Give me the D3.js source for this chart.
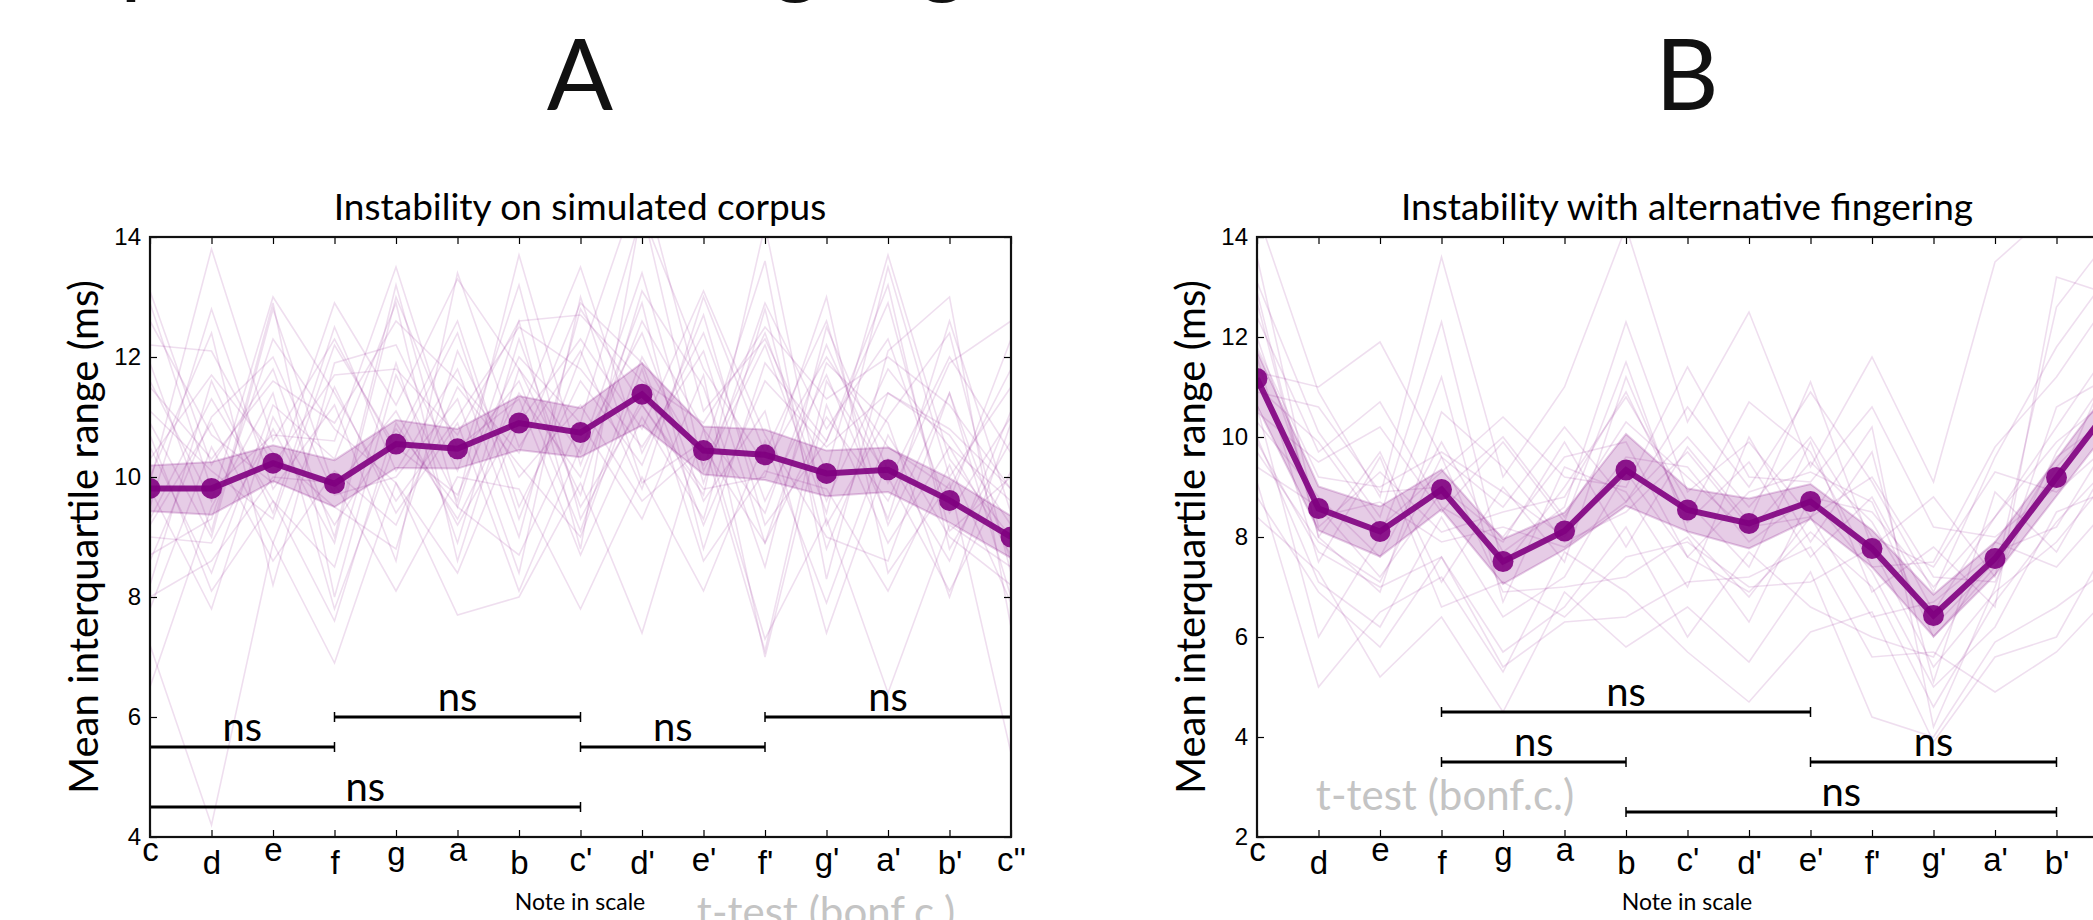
<!DOCTYPE html>
<html>
<head>
<meta charset="utf-8">
<script src="https://cdn.jsdelivr.net/npm/d3@7"></script>
<style>
  html, body { margin: 0; padding: 0; background: #fff; }
  svg { display: block; font-family: Lato, "Open Sans", sans-serif; }
</style>
</head>
<body>
<div id="chart"></div>
<script>
// notes of the scale, shared by both panels
const notes = ["c", "d", "e", "f", "g", "a", "b", "c'", "d'", "e'", "f'", "g'", "a'", "b'", "c''"];

// panel A - simulated corpus: mean IQR and s.e.m.
const meanA = [9.81, 9.81, 10.23, 9.89, 10.55, 10.47, 10.9, 10.74, 11.38, 10.44, 10.37, 10.06, 10.12, 9.61, 9.0];
const semA = [0.38, 0.44, 0.3, 0.39, 0.4, 0.33, 0.45, 0.41, 0.52, 0.4, 0.42, 0.38, 0.37, 0.37, 0.35];

// panel B - alternative fingering
const meanB = [11.17, 8.57, 8.11, 8.95, 7.51, 8.12, 9.34, 8.54, 8.27, 8.71, 7.77, 6.43, 7.57, 9.19, 10.8];
const semB = [0.55, 0.44, 0.5, 0.4, 0.45, 0.37, 0.72, 0.43, 0.5, 0.35, 0.37, 0.42, 0.33, 0.37, 0.4];

// individual players (faint lines), panel A
const playersA = [
  [13.1,10.2,11.8,9.0,13.2,9.5,12.6,8.8,14.5,10.1,12.2,9.4,13.5,10.0,11.5],
  [9.5,12.8,9.8,11.2,8.6,13.4,10.5,12.1,9.8,13.0,10.4,12.6,9.2,11.4,8.6],
  [11.9,9.1,12.9,8.0,11.7,9.6,13.7,10.2,12.9,8.8,11.9,10.6,12.9,9.1,10.0],
  [8.2,11.6,9.4,12.5,10.1,11.8,9.0,12.8,11.2,9.7,14.2,9.2,11.0,12.4,8.4],
  [10.5,8.4,11.2,10.3,12.9,8.6,11.8,9.7,13.1,11.5,8.5,12.5,10.1,9.6,12.3],
  [6.5,9.5,11.4,7.8,10.6,12.6,9.5,11.6,10.2,12.7,9.2,10.6,13.2,8.8,10.6],
  [12.2,12.1,10.2,11.7,11.8,10.7,12.6,12.7,11.6,10.9,12.5,11.3,12.0,11.2,9.8],
  [9.2,10.9,8.9,11.5,9.4,10.9,8.1,10.5,12.4,9.6,11.1,7.4,10.3,8.6,11.1],
  [10.9,9.0,12.8,9.8,11.1,9.2,11.0,13.5,10.4,12.4,9.6,11.7,9.3,12.6,9.4],
  [7.8,10.5,8.6,10.1,9.2,11.5,10.2,9.0,11.8,8.6,10.1,9.8,8.1,10.2,7.9],
  [11.1,10.1,9.3,12.2,10.5,9.7,12.0,10.9,14.4,11.8,10.2,12.0,10.5,9.8,11.8],
  [9.0,8.9,10.8,8.9,13.0,10.5,11.3,8.7,11.0,9.3,12.8,8.8,11.4,10.7,9.2],
  [10.3,11.7,10.4,9.5,8.8,12.1,10.0,11.2,9.6,10.5,8.9,11.9,10.9,8.0,10.9],
  [8.7,9.3,12.3,10.8,9.9,8.4,10.9,12.3,10.8,13.1,10.7,9.0,8.6,11.4,8.0],
  [12.6,10.7,9.9,12.9,11.2,13.3,11.8,10.4,13.4,9.9,12.9,10.8,12.3,9.4,11.0],
  [9.8,7.8,11.0,9.2,10.8,9.5,8.7,10.9,9.3,11.7,7.0,11.2,8.9,10.5,9.6],
  [10.0,12.4,8.2,11.9,12.2,10.1,13.2,9.3,11.3,10.4,13.6,8.3,12.1,13.0,7.5],
  [7.2,4.2,8.9,6.9,9.9,7.7,8.0,9.9,7.4,10.8,7.3,9.3,6.4,9.2,8.5],
  [11.5,10.3,11.6,10.9,12.6,11.6,10.4,12.9,11.9,9.2,11.6,10.5,11.4,10.8,9.8],
  [9.3,11.3,9.6,7.6,10.9,9.3,11.4,10.0,12.6,10.8,9.4,12.2,9.9,12.0,10.4],
  [8.0,8.6,10.0,9.9,8.1,10.0,9.8,7.8,10.0,8.1,10.6,7.9,10.7,9.0,8.2],
  [11.6,9.6,13.0,11.4,9.6,11.0,12.5,11.8,10.5,12.1,8.9,11.0,9.6,11.9,12.6],
  [9.9,13.8,10.6,12.3,10.4,12.4,9.3,12.0,15.0,11.1,12.3,10.1,13.7,10.3,9.0],
  [10.7,8.1,9.6,8.5,11.9,8.9,12.3,9.5,11.2,9.8,10.0,13.0,8.4,9.9,5.4],
  [8.6,11.0,12.0,9.7,10.0,11.3,8.4,13.0,9.9,10.6,7.1,11.6,10.0,8.1,10.1],
  [12.9,9.8,10.7,10.6,13.5,10.3,11.6,9.1,12.0,10.2,12.4,9.6,11.8,10.5,8.7]
];

// individual players (faint lines), panel B
const playersB = [
  [14.5,10.9,8.8,13.6,9.2,11.0,14.2,10.3,12.5,9.4,11.6,9.1,13.5,14.6,15.0],
  [12.9,8.0,9.7,7.1,9.0,7.5,11.2,8.3,9.5,7.6,8.8,6.5,8.4,10.2,12.0],
  [11.3,11.0,11.9,9.6,8.6,10.2,8.7,10.6,9.0,10.9,9.1,6.9,9.6,11.8,13.5],
  [10.0,7.1,6.2,8.4,6.4,7.2,9.3,7.6,6.9,8.1,7.0,4.6,6.7,8.3,9.6],
  [9.4,8.6,7.2,8.9,10.0,8.4,10.3,9.2,8.1,9.5,8.3,6.2,7.5,9.6,10.5],
  [12.4,9.7,10.7,8.6,7.9,9.9,7.8,9.8,8.3,11.1,7.8,8.8,7.2,12.6,14.2],
  [10.6,6.0,8.0,11.2,6.7,9.4,8.9,7.0,10.0,7.9,9.7,5.1,8.9,7.7,9.8],
  [13.1,10.1,8.4,12.3,7.4,9.0,10.8,8.7,7.4,9.9,6.9,7.8,6.6,13.2,12.8],
  [9.9,7.7,7.0,7.6,5.7,6.6,8.2,6.0,7.7,6.6,6.0,5.6,7.9,7.4,8.8],
  [11.8,9.2,9.0,9.7,8.9,8.0,9.6,9.4,7.9,8.8,8.5,7.0,8.4,9.9,10.9],
  [8.4,7.3,5.2,6.4,4.5,6.9,5.8,6.6,5.5,7.3,4.4,4.0,5.9,6.6,7.5],
  [10.3,8.8,7.6,9.9,7.7,8.6,12.3,8.9,9.9,8.4,10.2,4.2,7.0,10.6,11.3],
  [12.0,8.4,8.7,7.9,8.2,7.8,8.7,10.0,8.6,10.0,8.0,7.4,9.3,8.9,10.0],
  [9.1,5.0,6.5,7.2,5.3,7.7,6.9,5.7,4.7,6.1,6.5,3.9,5.6,6.0,8.2],
  [11.0,9.9,8.2,9.3,10.4,9.2,9.0,11.4,9.2,9.1,10.6,8.2,8.0,9.0,11.8],
  [13.6,8.2,9.3,8.1,8.5,8.8,10.9,8.4,10.7,9.7,7.4,7.5,9.8,11.2,13.0],
  [9.7,7.9,7.1,9.6,6.9,7.0,7.2,8.0,6.3,8.8,7.3,5.0,6.2,8.5,9.0],
  [10.9,10.6,8.9,9.0,8.0,9.6,9.9,7.6,8.9,9.3,8.7,6.0,7.4,9.4,10.7],
  [11.6,7.5,9.6,6.6,7.1,6.4,7.6,7.9,7.0,7.1,7.8,5.4,6.9,7.9,9.4],
  [12.7,8.0,6.9,10.5,9.4,7.9,8.5,9.7,8.2,8.4,6.4,6.7,7.7,8.2,10.2],
  [8.8,6.9,5.8,7.6,5.4,6.3,6.4,7.1,7.2,7.8,5.6,5.7,4.9,5.7,7.0],
  [10.5,9.5,10.2,8.5,9.9,8.3,11.5,8.1,6.8,8.4,9.2,7.2,7.1,9.7,11.5]
];

// significance brackets: [from note, to note, height]
const sigA = [["c", "f", 5.5], ["f", "c'", 6.0], ["c'", "f'", 5.5], ["f'", "c''", 6.0], ["c", "c'", 4.5]];
const sigB = [["f", "e'", 4.5], ["f", "b", 3.5], ["e'", "b'", 3.5], ["b", "b'", 2.5]];

const yTicksA = [4, 6, 8, 10, 12, 14];
const yTicksB = [2, 4, 6, 8, 10, 12, 14];

// figure title pieces: [text, index of the glyph to pin, x where that glyph sits]
const titleParts = [["Comparison of timing", 3, 120], [" in general", 4, 918], [" (mean ± s.e.m.)", 1, 1222]];

const width = 2093, height = 920;
const purple = "#800080";

const svg = d3.select("#chart").append("svg")
    .attr("width", width)
    .attr("height", height);

svg.append("rect").attr("width", width).attr("height", height).attr("fill", "#fff");

// figure title, sits above the page edge - only its descenders peek in
const figTitle = svg.append("text")
    .attr("y", -14)
    .attr("font-size", 95)
    .attr("fill", "#111");
let charOffset = 0;
titleParts.forEach(([txt, pin, target]) => {
    const span = figTitle.append("tspan").attr("x", 0).text(txt);
    const pos = figTitle.node().getStartPositionOfChar(charOffset + pin).x;
    span.attr("x", target - pos);
    charOffset += txt.length;
});
// stretch the bracket so its closing glyph lands where the original one is
const lastSpan = figTitle.select("tspan:last-child");
const closeStart = figTitle.node().getStartPositionOfChar(charOffset - 1).x;
lastSpan.attr("letter-spacing", Math.max(0, (1782 - closeStart) / 14));

// extra downward nudge for tick labels (letters with ascenders / primes sit lower)
const labelShift = s => /[dfb]/.test(s) ? 13 : (s.includes("'") ? 10 : (s === "g" ? 4 : 0));

function drawPanel(cfg) {
    const x = d3.scalePoint().domain(notes).range([cfg.left, cfg.left + 861]);
    const y = d3.scaleLinear().domain(cfg.yDomain).range([837, 237]);
    const [x0, x1] = [cfg.left, cfg.left + 861];

    const g = svg.append("g");
    const clipId = "clip" + cfg.key;
    g.append("clipPath").attr("id", clipId)
        .append("rect").attr("x", x0).attr("y", 237).attr("width", 861).attr("height", 600);

    const plot = g.append("g").attr("clip-path", `url(#${clipId})`);

    const line = d3.line().x((d, i) => x(notes[i])).y(d => y(d));

    // faint individual lines
    plot.append("g")
        .selectAll("path")
        .data(cfg.players)
        .join("path")
        .attr("d", line)
        .attr("fill", "none")
        .attr("stroke", purple)
        .attr("stroke-opacity", 0.13)
        .attr("stroke-width", 1.6);

    // s.e.m. band
    const area = d3.area()
        .x((d, i) => x(notes[i]))
        .y0((d, i) => y(d - cfg.sem[i]))
        .y1((d, i) => y(d + cfg.sem[i]));
    plot.append("path")
        .datum(cfg.mean)
        .attr("d", area)
        .attr("fill", purple)
        .attr("fill-opacity", 0.2)
        .attr("stroke", purple)
        .attr("stroke-opacity", 0.2)
        .attr("stroke-width", 2);

    // mean line + dots
    plot.append("path")
        .datum(cfg.mean)
        .attr("d", line)
        .attr("fill", "none")
        .attr("stroke", purple)
        .attr("stroke-opacity", 0.9)
        .attr("stroke-width", 6);

    plot.append("g")
        .selectAll("circle")
        .data(cfg.mean)
        .join("circle")
        .attr("cx", (d, i) => x(notes[i]))
        .attr("cy", d => y(d))
        .attr("r", 10.5)
        .attr("fill", purple)
        .attr("fill-opacity", 0.9);

    // significance bars
    const sig = g.append("g");
    sig.selectAll("line.bar")
        .data(cfg.sig)
        .join("line")
        .attr("class", "bar")
        .attr("x1", d => x(d[0])).attr("x2", d => x(d[1]))
        .attr("y1", d => y(d[2])).attr("y2", d => y(d[2]))
        .attr("stroke", "#000").attr("stroke-width", 3);
    sig.selectAll("path.cap")
        .data(cfg.sig)
        .join("path")
        .attr("class", "cap")
        .attr("d", d => `M${x(d[0])},${y(d[2]) - 5}V${y(d[2]) + 5}M${x(d[1])},${y(d[2]) - 5}V${y(d[2]) + 5}`)
        .attr("stroke", "#000").attr("stroke-width", 1.5);
    sig.selectAll("text")
        .data(cfg.sig)
        .join("text")
        .attr("x", d => (x(d[0]) + x(d[1])) / 2)
        .attr("y", d => y(d[2]) - 6)
        .attr("text-anchor", "middle")
        .attr("font-size", 40)
        .attr("fill", "#000")
        .text("ns");

    // axes with inward ticks
    const axes = g.append("g").attr("font-family", "Lato, sans-serif");
    const left = axes.append("g").attr("transform", `translate(${x0},0)`)
        .call(d3.axisLeft(y).tickValues(cfg.yTicks).tickSize(-7).tickPadding(9).tickFormat(d3.format("d")));
    left.selectAll("text").attr("font-size", 24).attr("fill", "#000");
    axes.append("g").attr("transform", `translate(${x1},0)`)
        .call(d3.axisRight(y).tickValues(cfg.yTicks).tickSize(-7).tickFormat(""));
    axes.append("g").attr("transform", "translate(0,237)")
        .call(d3.axisTop(x).tickSize(-7).tickFormat(""));
    const bottom = axes.append("g").attr("transform", "translate(0,837)")
        .call(d3.axisBottom(x).tickSize(-7).tickPadding(0));
    bottom.selectAll("text")
        .attr("font-size", 33)
        .attr("fill", "#000")
        .attr("dy", null)
        .attr("y", d => 24 + labelShift(d));
    axes.selectAll(".domain").remove();
    axes.selectAll(".tick line").attr("stroke", "#000").attr("stroke-width", 1.2);

    g.append("rect")
        .attr("x", x0).attr("y", 237).attr("width", 861).attr("height", 600)
        .attr("fill", "none").attr("stroke", "#111").attr("stroke-width", 2.2);

    const cx = x0 + 430;
    g.append("text").attr("x", cx).attr("y", 110).attr("text-anchor", "middle")
        .attr("font-size", 98).attr("fill", "#111").text(cfg.key);
    g.append("text").attr("x", cx).attr("y", 220).attr("text-anchor", "middle")
        .attr("font-size", 37).attr("fill", "#000").text(cfg.title);
    g.append("text").attr("x", cx).attr("y", 910).attr("text-anchor", "middle")
        .attr("font-size", 23).attr("fill", "#000").text("Note in scale");
    g.append("text")
        .attr("transform", `translate(${x0 - 52},537) rotate(-90)`)
        .attr("text-anchor", "middle")
        .attr("font-size", 40).attr("fill", "#000")
        .text("Mean interquartile range (ms)");
    g.append("text")
        .attr("x", cfg.testPos[0]).attr("y", cfg.testPos[1])
        .attr("text-anchor", "middle")
        .attr("font-size", 42).attr("fill", "#c4c4c4")
        .text("t-test (bonf.c.)");
}

drawPanel({
    key: "A", left: 150, yDomain: [4, 14], yTicks: yTicksA,
    mean: meanA, sem: semA, players: playersA, sig: sigA,
    title: "Instability on simulated corpus", testPos: [826, 927]
});
drawPanel({
    key: "B", left: 1257, yDomain: [2, 14], yTicks: yTicksB,
    mean: meanB, sem: semB, players: playersB, sig: sigB,
    title: "Instability with alternative fingering", testPos: [1445, 810]
});
</script>
</body>
</html>
